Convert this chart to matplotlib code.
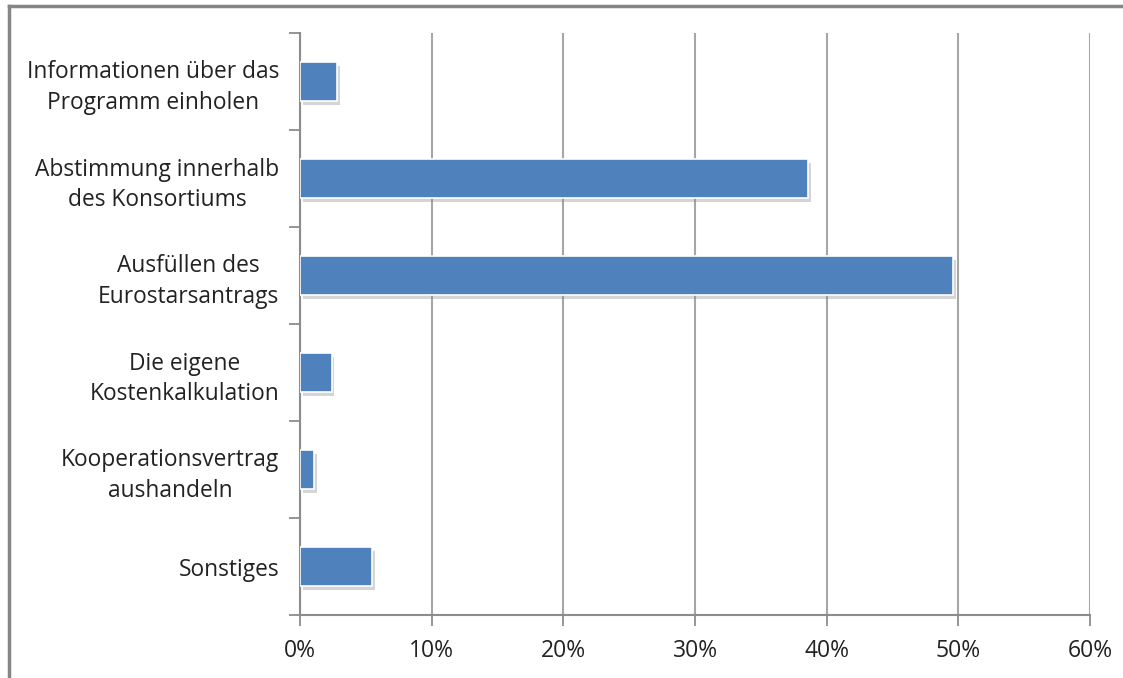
import matplotlib
matplotlib.use("Agg")
import matplotlib.pyplot as plt
import matplotlib.patheffects as pe
from matplotlib.ticker import FuncFormatter, FixedLocator

categories = [
    "Informationen über das\nProgramm einholen",
    "Abstimmung innerhalb\ndes Konsortiums",
    "Ausfüllen des\nEurostarsantrags",
    "Die eigene\nKostenkalkulation",
    "Kooperationsvertrag\naushandeln",
    "Sonstiges",
]
values = [0.028, 0.386, 0.496, 0.024, 0.011, 0.055]
xticks = [0, 0.1, 0.2, 0.3, 0.4, 0.5, 0.6]

plt.rcParams['font.family'] = ['Open Sans', 'DejaVu Sans']

fig = plt.figure(figsize=(11.23, 6.78), dpi=100)
ax = fig.add_axes([300/1123, 1-615/678, (1090-300)/1123, (615-33)/678])

n = len(categories)
ypos = list(range(n))[::-1]
bars = ax.barh(ypos, values, height=0.4, color='#4f81bd', edgecolor='white', linewidth=1.2, zorder=3)
for b in bars:
    b.set_path_effects([pe.SimplePatchShadow(offset=(2, -3), shadow_rgbFace='#888888', alpha=0.35), pe.Normal()])

ax.set_xlim(0, 0.6)
ax.set_ylim(-0.5, n-0.5)
ax.set_xticks(xticks)
ax.xaxis.set_major_formatter(FuncFormatter(lambda v, p: f"{v*100:.0f}%"))
ax.set_yticks(ypos)
ax.set_yticklabels(categories, multialignment='center', linespacing=1.37)
ax.yaxis.set_minor_locator(FixedLocator([i + 0.5 for i in range(-1, n)]))
ax.tick_params(axis='y', which='major', length=0, pad=15, labelsize=16.4, colors='#222222')
ax.tick_params(axis='y', which='minor', length=8, width=1.3, color='#8c8c8c', direction='out')
ax.tick_params(axis='x', which='major', length=8, width=1.3, color='#8c8c8c', direction='out', labelsize=16.5, pad=9, labelcolor='#222222')

ax.grid(axis='x', color='#a6a6a6', linewidth=1.5, zorder=0)
for s in ['top', 'right']:
    ax.spines[s].set_visible(False)
for s in ['left', 'bottom']:
    ax.spines[s].set_color('#8c8c8c')
    ax.spines[s].set_linewidth(1.5)

# outer frame (top and left)
fig.add_artist(plt.Line2D([9/1123, 1], [1-6/678, 1-6/678], transform=fig.transFigure, color='#868686', linewidth=2.5))
fig.add_artist(plt.Line2D([9/1123, 9/1123], [0, 1-6/678], transform=fig.transFigure, color='#868686', linewidth=2.5))

fig.savefig('out.png', dpi=100)
